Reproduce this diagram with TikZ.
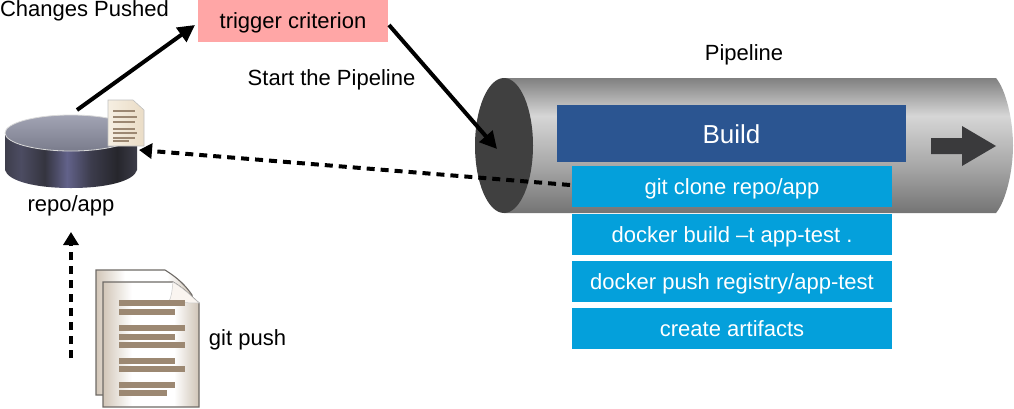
\documentclass[tikz,border=0pt]{standalone}
\usepackage{fontspec}
\setmainfont{Liberation Sans}
\usetikzlibrary{arrows.meta}
\definecolor{trigfill}{HTML}{FFA6A6}
\definecolor{buildfill}{HTML}{2B5591}
\definecolor{stepfill}{HTML}{04A0DB}
\definecolor{capdark}{HTML}{404040}
\definecolor{bararrow}{HTML}{3A3A3C}
\definecolor{docbar}{HTML}{9C8872}
\definecolor{docedge}{HTML}{6E6A66}
\definecolor{pa}{HTML}{747474}\definecolor{pb}{HTML}{A6A6A6}\definecolor{pc}{HTML}{D6D6D6}\definecolor{pd}{HTML}{808080}
\definecolor{wa}{HTML}{3E3E4C}\definecolor{wb}{HTML}{4C4C62}\definecolor{wc}{HTML}{34343F}\definecolor{wd}{HTML}{62628A}\definecolor{we}{HTML}{3C3C4C}\definecolor{wf}{HTML}{26262C}\definecolor{wg}{HTML}{3C3C48}
\definecolor{ta}{HTML}{7A7C8C}\definecolor{tb}{HTML}{A2A4B4}
\definecolor{da}{HTML}{D2C6B8}\definecolor{db}{HTML}{FFFFFF}\definecolor{dc}{HTML}{CFC4B6}
\definecolor{sa}{HTML}{F6EFE2}\definecolor{sb}{HTML}{EADCC6}
\pgfdeclareverticalshading{pipeshade}{100bp}{color(0bp)=(pa); color(25bp)=(pa); color(42bp)=(pb); color(61bp)=(pc); color(75bp)=(pd); color(100bp)=(pd)}
\pgfdeclarehorizontalshading{discwall}{100bp}{color(0bp)=(wa); color(25bp)=(wa); color(31bp)=(wb); color(40bp)=(wc); color(48.5bp)=(wd); color(57.5bp)=(we); color(67.5bp)=(wf); color(75bp)=(wg); color(100bp)=(wg)}
\pgfdeclareverticalshading{disctop}{100bp}{color(0bp)=(ta); color(25bp)=(ta); color(75bp)=(tb); color(100bp)=(tb)}
\pgfdeclarehorizontalshading{docpage}{100bp}{color(0bp)=(da); color(25bp)=(da); color(40bp)=(db); color(62bp)=(db); color(75bp)=(dc); color(100bp)=(dc)}
\pgfdeclarehorizontalshading{smallpage}{100bp}{color(0bp)=(sa); color(25bp)=(sa); color(75bp)=(sb); color(100bp)=(sb)}
\tikzset{
  px/.style={x=1pt,y=-1pt},
  lbl/.style={font=\fontsize{22}{26}\selectfont,text=black,inner sep=0pt,anchor=base},
  stepbox/.style={fill=stepfill,text=white,minimum width=320pt,minimum height=41pt,inner sep=0pt,text height=18.5pt,text depth=3.5pt,font=\fontsize{22}{26}\selectfont},
  solidarrow/.style={line width=4pt,-{Triangle[length=17pt,width=17pt]}},
  dasharrow/.style={line width=4pt,dash pattern=on 8pt off 6pt,-{Triangle[length=13pt,width=15pt]}},
  docline/.style={line width=5.5pt,docbar},
  docsheet/.style={shading=docpage,draw=docedge,line width=1.1pt},
}
\begin{document}
\begin{tikzpicture}[px]
\useasboundingbox (0,0) rectangle (1014,408);
% pipeline
\path[shading=pipeshade] (504,78) -- (996,78) .. controls (1006,90) and (1013,120) .. (1013,145.5) .. controls (1013,171) and (1006,201) .. (996,213) -- (504,213) -- cycle;
\fill[capdark] (504,145.5) ellipse [x radius=29,y radius=67.5];
\fill[bararrow] (931,138) -- (962,138) -- (962,126) -- (996,146) -- (962,166) -- (962,154) -- (931,154) -- cycle;
% boxes
\node[fill=trigfill,minimum width=190pt,minimum height=42pt,inner sep=0pt,text height=18pt,text depth=4pt,font=\fontsize{22}{26}\selectfont] (trigger) at (293,21) {trigger criterion};
\node[fill=buildfill,text=white,minimum width=349pt,minimum height=57pt,inner sep=0pt,text height=23pt,text depth=3pt,font=\fontsize{26}{30}\selectfont] (build) at (731.5,133.5) {Build};
\node[stepbox] (clone) at (732,186.5) {git clone repo/app};
\node[stepbox] (dbuild) at (732,234.5) {docker build –t app-test .};
\node[stepbox] (dpush) at (732,281.5) {docker push registry/app-test};
\node[stepbox] (artifacts) at (732,328.5) {create artifacts};
% repo disc
\path[shading=discwall] (5,133) -- (5,170) .. controls (8,181) and (35,188) .. (71,188) .. controls (107,188) and (134,181) .. (137,170) -- (137,133) -- cycle;
\path[shading=disctop,draw=black!15,line width=0.8pt] (71,133) ellipse [x radius=66,y radius=18];
% small document
\path[shading=smallpage,draw=black!25,line width=.6pt] (108,100) -- (133,100) -- (144,110) -- (144,146) -- (108,146) -- cycle;
\foreach \ya/\xb in {111/135,117/137,122/135,129/135,133/137,138/135,141/129}{
  \draw[docbar,line width=2.2pt] (113,\ya) -- (\xb,\ya);
}
% large documents
\path[docsheet] (96,270) -- (165,270) .. controls (178,278) and (186,286) .. (192,295) -- (192,395) -- (96,395) -- cycle;
\path[docsheet] (103,282) -- (173,282) .. controls (186,290) and (193,298) .. (199,303) -- (199,407) -- (103,407) -- cycle;
\fill[white!92!brown,draw=black!20,line width=.5pt] (173,282) .. controls (172,290) and (172,297) .. (168,303) .. controls (178,302) and (190,303) .. (199,303) .. controls (193,298) and (186,290) .. (173,282) -- cycle;
\foreach \ya/\xb in {303/185,312/175,328/185,337/175,345/185,361/175,369/185,385/175,393/167}{
  \draw[docline] (119,\ya) -- (\xb,\ya);
}
% labels
\node[lbl] (changes) at (84.5,16.5) {Changes Pushed};
\node[lbl] (start) at (331.5,85) {Start the Pipeline};
\node[lbl] (pipe) at (744,60) {Pipeline};
\node[lbl] (repo) at (71,211) {repo/app};
\node[lbl] (gitpush) at (247.5,345) {git push};
% connector ends
\coordinate (repoTop) at (77,110);
\coordinate (trigIn) at (195,25);
\coordinate (trigOut) at (389,25);
\coordinate (pipeIn) at (497,149);
\coordinate (cloneOut) at (570,185);
\coordinate (repoIn) at (139,150);
\coordinate (pushStart) at (71,358);
\coordinate (pushEnd) at (71,232);
\draw[solidarrow] (repoTop) -- (trigIn);
\draw[solidarrow] (trigOut) -- (pipeIn);
\draw[dasharrow] (cloneOut) -- (repoIn);
\draw[dasharrow] (pushStart) -- (pushEnd);
\end{tikzpicture}
\end{document}
